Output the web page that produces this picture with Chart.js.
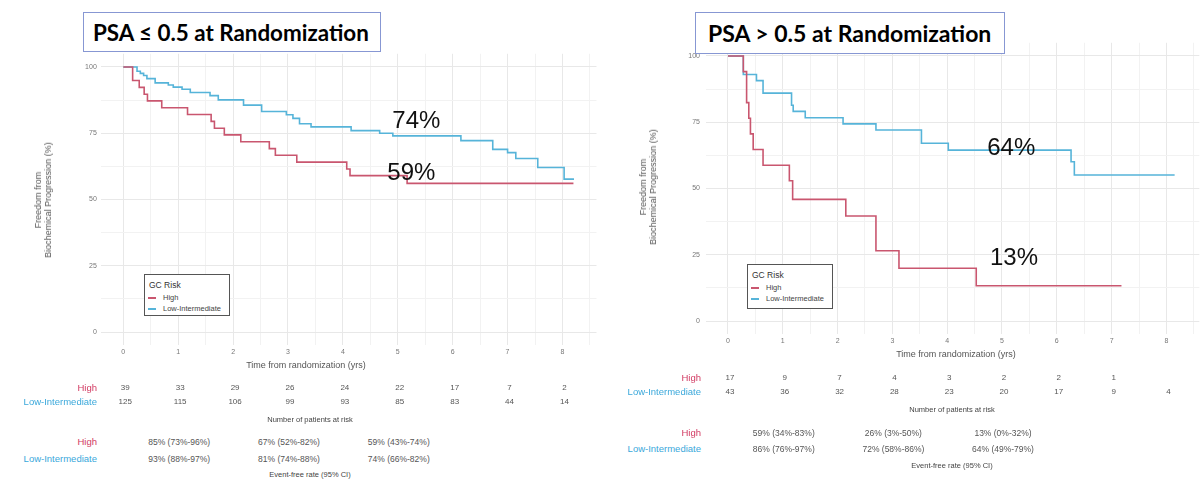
<!DOCTYPE html>
<html>
<head>
<meta charset="utf-8">
<script src="https://cdn.jsdelivr.net/npm/chart.js@4.4.1/dist/chart.umd.min.js"></script>
<style>
html,body{margin:0;padding:0;background:#fff;}
#wrap{position:relative;width:1200px;height:495px;overflow:hidden;font-family:"Liberation Sans",Arial,sans-serif;background:#fff;}
canvas{position:absolute;}
.t{position:absolute;white-space:nowrap;line-height:1;}
.title{position:absolute;border:1px solid #8797d3;background:#fff;font-family:Lato,"Open Sans",sans-serif;font-weight:bold;font-size:22px;color:#000;box-sizing:border-box;display:flex;align-items:center;}
.legend{position:absolute;border:1px solid #555;background:#fff;box-sizing:border-box;}
.ytitle{position:absolute;white-space:nowrap;font-size:9px;color:#555;line-height:10px;text-align:center;transform:translate(-50%,-50%) rotate(-90deg);}
</style>
</head>
<body>
<div id="wrap">
  <canvas id="left" width="600" height="360" style="left:0;top:0;width:600px;height:360px"></canvas>
  <canvas id="right" width="600" height="350" style="left:600px;top:0;width:600px;height:350px"></canvas>
</div>
<script>
// ---------------- DATA ----------------
const X_TICKS = [0, 0.5, 1, 1.5, 2, 2.5, 3, 3.5, 4, 4.5, 5, 5.5, 6, 6.5, 7, 7.5, 8, 8.5];
const Y_TICKS = [0, 12.5, 25, 37.5, 50, 62.5, 75, 87.5, 100];
const RISK_TIMES = [0, 1, 2, 3, 4, 5, 6, 7, 8];
const CI_TIMES = [1, 3, 5];
const GROUPS = ["High", "Low-Intermediate"];

// Left panel: PSA <= 0.5
const leftHighTime = [0, 0.17, 0.29, 0.38, 0.44, 0.70, 1.17, 1.60, 1.66, 1.84, 2.14, 2.66, 2.77, 3.16, 4.07, 4.13, 5.17, 8.20];
const leftHighSurv = [100, 94.9, 92.3, 89.7, 87.2, 84.6, 82.1, 79.5, 76.9, 74.4, 71.8, 69.2, 66.7, 64.1, 61.5, 59.0, 56.1, 56.1];
const leftLowTime = [0, 0.25, 0.31, 0.37, 0.43, 0.58, 0.82, 0.91, 1.07, 1.22, 1.58, 1.73, 2.19, 2.52, 2.97, 3.09, 3.21, 3.42, 4.15, 4.67, 4.91, 6.15, 6.73, 7.00, 7.15, 7.55, 8.03, 8.21];
const leftLowSurv = [100, 98.4, 97.6, 96.8, 95.6, 94.0, 93.2, 92.4, 91.6, 90.4, 89.2, 87.6, 85.6, 83.2, 82.0, 80.6, 78.6, 77.4, 76.0, 75.0, 74.0, 72.2, 68.9, 67.7, 65.5, 62.1, 57.7, 57.7];
const leftRiskHigh = [39, 33, 29, 26, 24, 22, 17, 7, 2];
const leftRiskLow = [125, 115, 106, 99, 93, 85, 83, 44, 14];
const leftCiHigh = ["85% (73%-96%)", "67% (52%-82%)", "59% (43%-74%)"];
const leftCiLow = ["93% (88%-97%)", "81% (74%-88%)", "74% (66%-82%)"];
const leftAnnotText = ["74%", "59%"];

// Right panel: PSA > 0.5
const rightHighTime = [0, 0.28, 0.34, 0.38, 0.41, 0.46, 0.64, 1.12, 1.18, 2.15, 2.70, 3.12, 4.53, 7.18];
const rightHighSurv = [100, 94.1, 82.4, 76.5, 70.6, 64.7, 58.8, 52.9, 45.9, 39.6, 26.5, 19.9, 13.3, 13.3];
const rightLowTime = [0, 0.28, 0.52, 0.64, 1.16, 1.19, 1.41, 2.10, 2.70, 3.53, 4.02, 6.26, 6.32, 8.15];
const rightLowSurv = [100, 93.0, 90.7, 86.0, 81.4, 79.1, 76.7, 74.4, 72.1, 67.1, 64.5, 60.1, 55.1, 55.1];
const rightRiskHigh = [17, 9, 7, 4, 3, 2, 2, 1, null];
const rightRiskLow = [43, 36, 32, 28, 23, 20, 17, 9, 4];
const rightCiHigh = ["59% (34%-83%)", "26% (3%-50%)", "13% (0%-32%)"];
const rightCiLow = ["86% (76%-97%)", "72% (58%-86%)", "64% (49%-79%)"];
const rightAnnotText = ["64%", "13%"];

// ---------------- STYLE / LAYOUT ----------------
const RED = "#C9566F";
const BLUE = "#56B4D9";
const RED_TXT = "#D23A62";
const BLUE_TXT = "#3AA8DB";
const FONT = '"Liberation Sans", Arial, sans-serif';
const wrap = document.getElementById("wrap");

function pts(t, s) { return t.map((v, i) => ({ x: v, y: s[i] })); }

function makeChart(id, L) {
  return new Chart(document.getElementById(id), {
    type: "line",
    data: {
      datasets: [
        { label: GROUPS[0], data: pts(L.highT, L.highS), borderColor: RED, borderWidth: 1.6, stepped: true, pointRadius: 0, fill: false },
        { label: GROUPS[1], data: pts(L.lowT, L.lowS), borderColor: BLUE, borderWidth: 1.6, stepped: true, pointRadius: 0, fill: false }
      ]
    },
    options: {
      responsive: false, animation: false, events: [],
      layout: { padding: { left: 0, top: L.top, right: L.padRight, bottom: 0 } },
      plugins: { legend: { display: false }, tooltip: { enabled: false }, title: { display: false } },
      scales: {
        x: {
          type: "linear", min: L.xmin, max: L.xmax, bounds: "data",
          afterBuildTicks: s => { s.ticks = X_TICKS.map(v => ({ value: v })); },
          afterFit: s => { s.height = L.xAxisH; },
          ticks: { autoSkip: false, maxRotation: 0, padding: L.xPad, color: "#777", font: { size: 7, family: FONT },
                   callback: v => (Number.isInteger(v) ? String(v) : "") },
          grid: { drawTicks: false, lineWidth: 1, color: c => (Number.isInteger(c.tick.value) ? "#e8e8e8" : "#f2f2f2") },
          border: { display: false }
        },
        y: {
          type: "linear", min: -5, max: 105, bounds: "data",
          afterBuildTicks: s => { s.ticks = Y_TICKS.map(v => ({ value: v })); },
          afterFit: s => { s.width = L.yAxisW; },
          ticks: { autoSkip: false, padding: L.yPad, color: "#777", font: { size: 7, family: FONT },
                   callback: v => (v % 25 === 0 ? String(v) : "") },
          grid: { drawTicks: false, lineWidth: 1, color: c => (c.tick.value % 25 === 0 ? "#e8e8e8" : "#f2f2f2") },
          border: { display: false }
        }
      }
    }
  });
}

function addText(text, x, y, o) {
  const d = document.createElement("div");
  d.className = "t";
  d.textContent = text;
  d.style.left = x + "px";
  d.style.top = y + "px";
  d.style.fontSize = (o.size || 8) + "px";
  d.style.color = o.color || "#555";
  if (o.weight) d.style.fontWeight = o.weight;
  const a = o.align || "center";
  d.style.transform = a === "center" ? "translate(-50%,-50%)" : a === "right" ? "translate(-100%,-50%)" : "translate(0,-50%)";
  wrap.appendChild(d);
  return d;
}
function addBaselineText(text, x, baseline, size) {
  const d = document.createElement("div");
  d.className = "t";
  d.textContent = text;
  d.style.left = x + "px";
  d.style.top = (baseline - 0.8465 * size) + "px";
  d.style.fontSize = size + "px";
  d.style.color = "#111";
  wrap.appendChild(d);
}
function addTitle(text, x, y, w, h, padL, size) {
  const d = document.createElement("div");
  d.className = "title";
  d.textContent = text;
  Object.assign(d.style, { left: x + "px", top: y + "px", width: w + "px", height: h + "px", paddingLeft: padL + "px", fontSize: size + "px" });
  wrap.appendChild(d);
}
function addLegend(x, y, w, h) {
  const b = document.createElement("div");
  b.className = "legend";
  Object.assign(b.style, { left: x + "px", top: y + "px", width: w + "px", height: h + "px" });
  wrap.appendChild(b);
  addText("GC Risk", x + 5, y + 11, { size: 8.5, color: "#333", align: "left" });
  const cols = [RED, BLUE];
  GROUPS.forEach((g, i) => {
    const ly = y + 24 + i * 11;
    const seg = document.createElement("div");
    Object.assign(seg.style, { position: "absolute", left: (x + 4) + "px", top: (ly - 0.8) + "px", width: "8px", height: "1.6px", background: cols[i] });
    wrap.appendChild(seg);
    addText(g, x + 19, ly, { size: 7.5, color: "#444", align: "left" });
  });
}
function addYTitle(cx, cy) {
  const d = document.createElement("div");
  d.className = "ytitle";
  d.innerHTML = "Freedom from<br>Biochemical Progression (%)";
  d.style.left = cx + "px";
  d.style.top = cy + "px";
  wrap.appendChild(d);
}

function decorate(chart, offX, L) {
  const sx = chart.scales.x, sy = chart.scales.y;
  const px = t => offX + sx.getPixelForValue(t);
  L.annotText.forEach((txt, i) => addBaselineText(txt, px(L.annotAt[i][0]), sy.getPixelForValue(L.annotAt[i][1]), 24));
  addText("Time from randomization (yrs)", L.xTitle[0], L.xTitle[1], { size: 9, color: "#555" });
  addYTitle(L.yTitle[0], L.yTitle[1]);
  addText(GROUPS[0], L.labelRight, L.rows[0], { size: 9.5, color: RED_TXT, align: "right" });
  addText(GROUPS[1], L.labelRight, L.rows[1], { size: 9.5, color: BLUE_TXT, align: "right" });
  RISK_TIMES.forEach((t, i) => {
    if (L.riskHigh[i] != null) addText(String(L.riskHigh[i]), px(t) + 2, L.rows[0], { size: 8 });
    if (L.riskLow[i] != null) addText(String(L.riskLow[i]), px(t) + 2, L.rows[1], { size: 8 });
  });
  addText("Number of patients at risk", L.capX, L.rows[2], { size: 7.5, color: "#444" });
  addText(GROUPS[0], L.labelRight, L.rows[3], { size: 9.5, color: RED_TXT, align: "right" });
  addText(GROUPS[1], L.labelRight, L.rows[4], { size: 9.5, color: BLUE_TXT, align: "right" });
  CI_TIMES.forEach((t, i) => {
    addText(L.ciHigh[i], px(t) + 1, L.rows[3], { size: 8.5 });
    addText(L.ciLow[i], px(t) + 1, L.rows[4], { size: 8.5 });
  });
  addText("Event-free rate (95% CI)", L.capX, L.rows[5], { size: 7.5, color: "#444" });
}

const LEFT = {
  highT: leftHighTime, highS: leftHighSurv, lowT: leftLowTime, lowS: leftLowSurv,
  xmin: -0.41, xmax: 8.62, top: 53.75, padRight: 3.5, yAxisW: 100.8, xAxisH: 14.75, xPad: 2.5, yPad: 4,
  annotText: leftAnnotText, annotAt: [[4.9, 77], [4.81, 57.4]],
  riskHigh: leftRiskHigh, riskLow: leftRiskLow, ciHigh: leftCiHigh, ciLow: leftCiLow,
  xTitle: [306, 365], yTitle: [43, 200], labelRight: 97, capX: 310, rows: [388, 402, 420, 442, 459, 475]
};
const RIGHT = {
  highT: rightHighTime, highS: rightHighSurv, lowT: rightLowTime, lowS: rightLowSurv,
  xmin: -0.41, xmax: 8.6, top: 42.75, padRight: 0.7, yAxisW: 105.5, xAxisH: 15.75, xPad: 3, yPad: 5.5,
  annotText: rightAnnotText, annotAt: [[4.73, 62.6], [4.78, 21.1]],
  riskHigh: rightRiskHigh, riskLow: rightRiskLow, ciHigh: rightCiHigh, ciLow: rightCiLow,
  xTitle: [956, 354], yTitle: [648, 187], labelRight: 701, capX: 952, rows: [378, 392, 410, 433, 449, 466]
};

const cL = makeChart("left", LEFT);
const cR = makeChart("right", RIGHT);
decorate(cL, 0, LEFT);
decorate(cR, 600, RIGHT);
addLegend(144, 274, 86, 42);
addLegend(747, 264, 86, 45);
addTitle("PSA \u2264 0.5 at Randomization", 83, 12, 298, 40, 9, 22.4);
addTitle("PSA > 0.5 at Randomization", 695, 12, 310, 42, 12, 23);
</script>
</body>
</html>
